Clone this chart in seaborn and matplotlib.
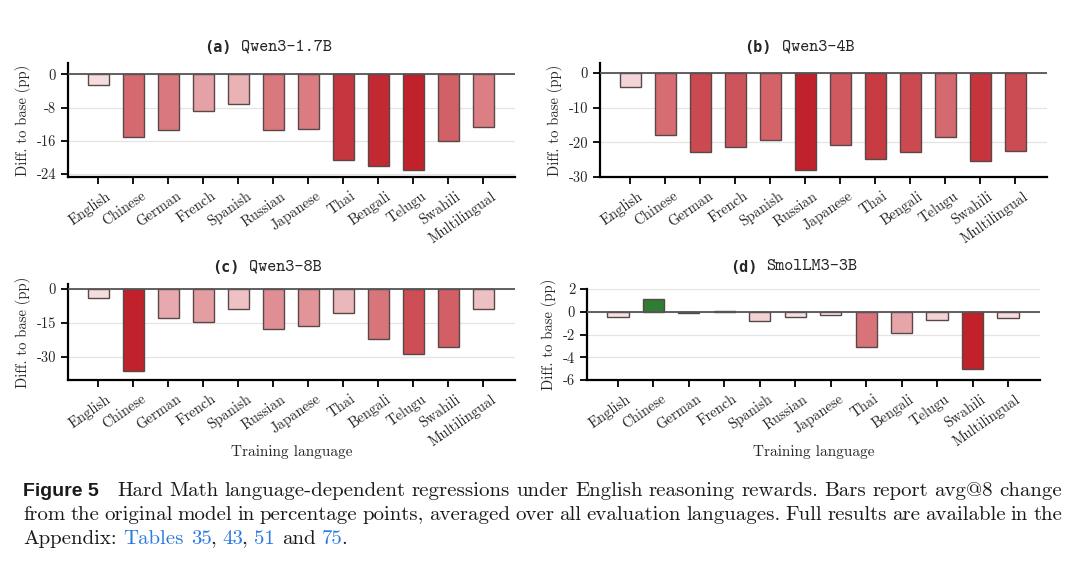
import seaborn as sns
import matplotlib.pyplot as plt
from matplotlib.colors import to_rgb
from matplotlib.transforms import ScaledTranslation

# Hard Math avg@8 change from the base model (pp)
languages = ["English", "Chinese", "German", "French", "Spanish", "Russian",
             "Japanese", "Thai", "Bengali", "Telugu", "Swahili", "Multilingual"]
qwen3_1_7b = [-2.5, -15.1, -13.4, -8.9, -7.1, -13.4, -13.1, -20.7, -22.1, -23.0, -16.1, -12.7]
qwen3_4b = [-4.1, -18.0, -22.8, -21.3, -19.3, -28.1, -20.7, -24.7, -22.8, -18.5, -25.5, -22.4]
qwen3_8b = [-4.0, -36.5, -12.9, -14.8, -8.7, -17.6, -16.4, -10.6, -22.0, -28.7, -25.7, -8.9]
smollm3_3b = [-0.47, 1.09, -0.15, 0.10, -0.80, -0.50, -0.26, -3.06, -1.85, -0.76, -5.0, -0.56]

panel_letters = ["(a)", "(b)", "(c)", "(d)"]
model_names = ["Qwen3-1.7B", "Qwen3-4B", "Qwen3-8B", "SmolLM3-3B"]
panel_values = [qwen3_1_7b, qwen3_4b, qwen3_8b, smollm3_3b]
panel_yticks = [[0, -8, -16, -24], [0, -10, -20, -30], [0, -15, -30], [2, 0, -2, -4, -6]]
panel_ylims = [(-24.7, 2.7), (-30, 2.9), (-40.3, 2.2), (-6, 2)]

W, H = 1080, 565
# axes boxes in pixels: left, right, top, bottom
boxes = [(68, 515, 63, 177), (600, 1047, 63, 177), (68, 515, 284, 380), (587, 1040, 289, 380)]
title_pos = [(204, 241, 47), (744, 782, 47), (212, 249, 267), (730, 766, 267)]

RED = to_rgb("#c0212a")
GREEN = "#2e7d32"


def bar_colors(vals):
    worst = max(-v for v in vals if v < 0)
    cols = []
    for v in vals:
        if v >= 0:
            cols.append(GREEN)
        else:
            t = 0.05 + 0.95 * (-v / worst)
            cols.append(tuple(1 - t * (1 - c) for c in RED))
    return cols


sns.set_style("white")
plt.rcParams["font.family"] = ["cmr10", "DejaVu Serif"]
plt.rcParams["axes.unicode_minus"] = False
plt.rcParams["mathtext.fontset"] = "cm"

fig = plt.figure(figsize=(W / 100, H / 100), dpi=100)
shift = ScaledTranslation(7 / 100, -1 / 100, fig.dpi_scale_trans)

for i in range(4):
    l, r, t, b = boxes[i]
    ax = fig.add_axes([l / W, 1 - b / H, (r - l) / W, (b - t) / H])
    vals = panel_values[i]
    sns.barplot(x=languages, y=vals, hue=languages, palette=bar_colors(vals),
                saturation=1, legend=False, width=0.6, edgecolor="#5a4848",
                linewidth=1.0, ax=ax, zorder=3)
    ax.axhline(0, color="#555555", lw=1.3, zorder=4)
    ax.set_yticks(panel_yticks[i])
    ax.set_ylim(*panel_ylims[i])
    ax.set_xlim(-0.87, 11.9)
    ax.yaxis.grid(True, color="#e4e4e4", lw=0.9)
    ax.set_axisbelow(True)
    sns.despine(ax=ax)
    for s in ["left", "bottom"]:
        ax.spines[s].set_linewidth(1.6)
        ax.spines[s].set_color("black")
    ax.tick_params(axis="both", direction="out", length=5, width=1.3, color="black",
                   labelsize=10.5, left=True, bottom=True)
    ax.tick_params(axis="x", pad=3)
    for lab in ax.get_xticklabels():
        lab.set_rotation(35)
        lab.set_ha("right")
        lab.set_va("top")
        lab.set_rotation_mode("anchor")
        lab.set_transform(lab.get_transform() + shift)
    ax.set_ylabel("Diff. to base (pp)", fontsize=10.5, labelpad=4)
    if i >= 2:
        ax.set_xlabel("Training language", fontsize=11, va="center")
        ax.xaxis.set_label_coords(0.5, (b - 452) / (b - t))
    else:
        ax.set_xlabel("")

    x_letter, x_name, y_title = title_pos[i]
    fig.text(x_letter / W, 1 - y_title / H, panel_letters[i], family="DejaVu Sans Mono",
             weight="bold", fontsize=11, ha="left", va="center")
    fig.text(x_name / W, 1 - y_title / H, model_names[i], family="cmtt10",
             fontsize=12.5, ha="left", va="center")

# caption, laid out word by word so the first two lines are justified
body = dict(family=["cmr10", "DejaVu Serif"], fontsize=15, color="#1a1a1a")
link = dict(body, color="#2a7ae2")
bold = dict(family="Liberation Sans", weight="bold", fontsize=14, color="#1a1a1a")

fig.canvas.draw()
renderer = fig.canvas.get_renderer()


def place_words(words, x0, y, x1=None):
    placed = []
    for word in words:
        segs = []
        for k, (text, style) in enumerate(word):
            art = fig.text(0, 1 - y / H, text, va="baseline", ha="left", **style)
            w = art.get_window_extent(renderer).width
            segs.append((art, w - 2 if k < len(word) - 1 else w))
        placed.append(segs)
    widths = [sum(w for _, w in segs) for segs in placed]
    if x1 is None:
        gap = 0.333 * body["fontsize"] * 100 / 72
    else:
        gap = (x1 - x0 - sum(widths)) / (len(words) - 1)
    x = x0
    for segs, wd in zip(placed, widths):
        xx = x
        for art, w in segs:
            art.set_x(xx / W)
            xx += w
        x += wd + gap


def plain(line, style=body):
    return [[(w, style)] for w in line.split()]


fig.text(23 / W, 1 - 496 / H, "Figure 5", va="baseline", ha="left", **bold)
place_words(plain("Hard Math language-dependent regressions under English reasoning "
                  "rewards. Bars report avg@8 change"), 117, 496, 1062)
place_words(plain("from the original model in percentage points, averaged over all "
                  "evaluation languages. Full results are available in the"), 23, 520, 1062)
line3 = plain("Appendix:") + [[("Tables", link)], [("35", link), (",", body)],
                              [("43", link), (",", body)], [("51", link)],
                              [("and", body)], [("75", link), (".", body)]]
place_words(line3, 23, 544)

fig.savefig("out.png", dpi=100)
